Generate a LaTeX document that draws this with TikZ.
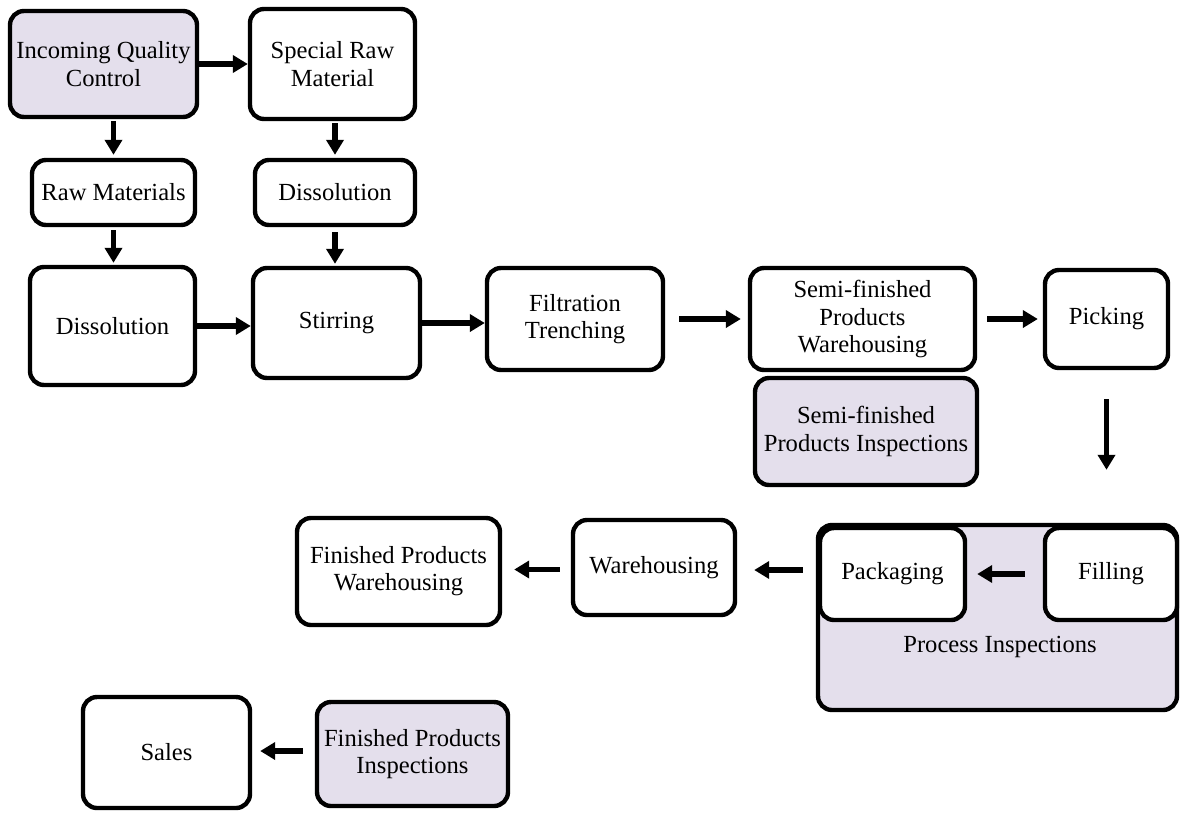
\documentclass[tikz,border=0pt]{standalone}
\usepackage{fontspec}
\setmainfont{Liberation Serif}
\newfontfamily\timesfont{Liberation Serif}
\usetikzlibrary{arrows.meta}
\definecolor{insp}{HTML}{E4DFEC}
\tikzset{
  box/.style={draw=black,line width=2.2pt,rounded corners=7pt,fill=white,
    align=center,inner sep=2pt,font=\timesfont\fontsize{12.3pt}{13.6pt}\selectfont},
  inspbox/.style={box,fill=insp},
  flow/.style={line width=2.6pt,-{Triangle[length=7.5pt,width=8.5pt]}}
}
\begin{document}
\begin{tikzpicture}[x=0.5pt,y=-0.5pt]
\useasboundingbox (0,0) rectangle (1181,814);
% Raw material side
\node[inspbox,minimum width=93.5pt,minimum height=53pt] (iqc) at (103.5,64) {Incoming Quality\\Control};
\node[box,minimum width=82.5pt,minimum height=55pt] (srm) at (332.5,64) {Special Raw\\Material};
\node[box,minimum width=81.5pt,minimum height=32.5pt] (raw) at (113.5,192.5) {Raw Materials};
\node[box,minimum width=80pt,minimum height=32.5pt] (dis1) at (335,192.5) {Dissolution};
% Main line
\node[box,minimum width=82.5pt,minimum height=59pt] (dis2) at (112.5,326) {Dissolution};
\node[box,minimum width=83.5pt,minimum height=55pt] (stir) at (336.5,323) {Stirring};
\node[box,minimum width=88pt,minimum height=51pt] (filt) at (575,319) {Filtration\\Trenching};
\node[box,minimum width=112.5pt,minimum height=51pt] (sfw) at (862.5,319) {Semi-finished\\Products\\Warehousing};
\node[box,minimum width=61.5pt,minimum height=49pt] (pick) at (1106.5,319) {Picking};
\node[inspbox,minimum width=111pt,minimum height=53.5pt] (sfi) at (866,431.5) {Semi-finished\\Products Inspections};
% Process inspections
\node[inspbox,minimum width=179.5pt,minimum height=92.5pt] (proc) at (997.5,617.5) {};
\node[font=\timesfont\fontsize{12.3pt}{13.6pt}\selectfont] (proclabel) at (1000,647) {Process Inspections};
\node[box,minimum width=72.5pt,minimum height=46pt] (pack) at (892.5,574) {Packaging};
\node[box,minimum width=66pt,minimum height=46pt] (fill) at (1111,574) {Filling};
% Finished side
\node[box,minimum width=81pt,minimum height=47.5pt] (ware) at (654,567.5) {Warehousing};
\node[box,minimum width=101.5pt,minimum height=53.5pt] (fpw) at (398.5,571.5) {Finished Products\\Warehousing};
\node[box,minimum width=83.5pt,minimum height=55.5pt] (sales) at (166.5,752.5) {Sales};
\node[inspbox,minimum width=95.5pt,minimum height=52pt] (fpi) at (412.5,754) {Finished Products\\Inspections};
% Arrows
\draw[flow] (iqc.east) -- (srm.west);
\draw[flow,shorten <=1pt,shorten >=1.5pt] (raw.north |- iqc.south) -- (raw.north);
\draw[flow,shorten <=1pt,shorten >=1.5pt] (srm.south -| dis1.north) -- (dis1.north);
\draw[flow,shorten <=1.5pt,shorten >=1pt] (raw.south) -- (raw.south |- dis2.north);
\draw[flow,shorten <=2.5pt,shorten >=1pt] (dis1.south) -- (dis1.south |- stir.north);
\draw[flow] (dis2.east) -- (dis2.east -| stir.west);
\draw[flow] (stir.east) -- (stir.east -| filt.west);
\draw[flow,shorten <=7pt,shorten >=3.5pt] (filt.east) -- (filt.east -| sfw.west);
\draw[flow,shorten <=5pt,shorten >=2.5pt] (sfw.east) -- (sfw.east -| pick.west);
\draw[flow,shorten <=14.5pt,shorten >=28pt] (pick.south) -- (pick.south |- fill.north);
\draw[flow,shorten <=9pt,shorten >=5pt] (fill.west) -- (fill.west -| pack.east);
\draw[flow,shorten <=7.5pt,shorten >=8.5pt] ([yshift=2pt]pack.west) -- ([yshift=2pt]pack.west -| ware.east);
\draw[flow,shorten <=5.5pt,shorten >=6pt] ([yshift=-1pt]ware.west) -- ([yshift=-1pt]ware.west -| fpw.east);
\draw[flow,shorten <=6pt,shorten >=4pt] ([yshift=1.5pt]fpi.west) -- ([yshift=1.5pt]fpi.west -| sales.east);
\end{tikzpicture}
\end{document}
